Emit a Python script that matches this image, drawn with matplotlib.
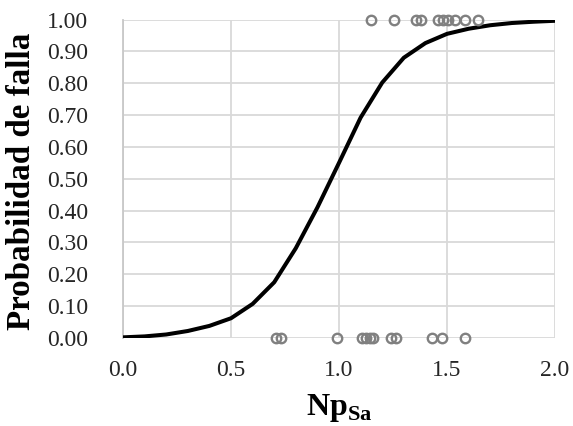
import matplotlib
matplotlib.use("Agg")
import matplotlib.pyplot as plt

# Fitted curve (fragility curve)
curve_x = [0.0, 0.1, 0.2, 0.3, 0.4, 0.5, 0.6, 0.7, 0.8, 0.9, 1.0,
           1.1, 1.2, 1.3, 1.4, 1.5, 1.6, 1.7, 1.8, 1.9, 2.0]
curve_y = [0.002, 0.005, 0.011, 0.022, 0.038, 0.062, 0.107, 0.175, 0.282, 0.41, 0.55,
           0.692, 0.802, 0.88, 0.926, 0.955, 0.971, 0.982, 0.989, 0.993, 0.996]

# Observed cases: failure (1) and non-failure (0)
fail_x = [1.148, 1.255, 1.356, 1.38, 1.458, 1.481, 1.505, 1.537, 1.583, 1.644]
nofail_x = [0.708, 0.731, 0.991, 1.106, 1.125, 1.144, 1.157, 1.241, 1.264, 1.431, 1.477, 1.583]

x_ticks = [0.0, 0.5, 1.0, 1.5, 2.0]
x_tick_labels = ["0.0", "0.5", "1.0", "1.5", "2.0"]
y_ticks = [0.0, 0.1, 0.2, 0.3, 0.4, 0.5, 0.6, 0.7, 0.8, 0.9, 1.0]
y_tick_labels = ["%.2f" % v for v in y_ticks]

plt.rcParams['font.family'] = ['Liberation Serif', 'DejaVu Serif']
plt.rcParams['mathtext.fontset'] = 'custom'
plt.rcParams['mathtext.rm'] = 'Liberation Serif'
plt.rcParams['mathtext.bf'] = 'Liberation Serif:bold'

fig = plt.figure(figsize=(5.73, 4.26), dpi=100)
ax = fig.add_axes([0.2147, 0.2066, 0.7539, 0.7476])

ax.plot(curve_x, curve_y, color='black', lw=2.9, zorder=3, solid_capstyle='butt')
ax.plot(fail_x, [1.0] * len(fail_x), 'o', mfc='none', mec='#808080', mew=1.7, ms=6.8,
        clip_on=False, zorder=4)
ax.plot(nofail_x, [0.0] * len(nofail_x), 'o', mfc='none', mec='#808080', mew=1.7, ms=6.8,
        clip_on=False, zorder=4)

ax.set_xlim(0, 2.0)
ax.set_ylim(0, 1.0)
ax.set_xticks(x_ticks)
ax.set_xticklabels(x_tick_labels)
ax.set_yticks(y_ticks)
ax.set_yticklabels(y_tick_labels)
ax.tick_params(axis='both', length=0, labelsize=17, colors='#262626')
ax.tick_params(axis='y', pad=25)
ax.tick_params(axis='x', pad=16)

ax.grid(True, color='#d9d9d9', lw=1.3, zorder=0)
ax.set_axisbelow(True)
for s in ['top', 'right', 'bottom']:
    ax.spines[s].set_visible(False)
ax.spines['left'].set_color('#c8c8c8')
ax.spines['left'].set_linewidth(1.3)

ax.set_ylabel('Probabilidad de falla', fontsize=23.8, fontweight='bold')
ax.yaxis.set_label_coords(-0.2, 0.491)
ax.set_xlabel(r'$\mathbf{Np}_{\mathbf{Sa}}$', fontsize=23)
ax.xaxis.set_label_coords(0.5, -0.17)

fig.savefig('out.png', dpi=100)
